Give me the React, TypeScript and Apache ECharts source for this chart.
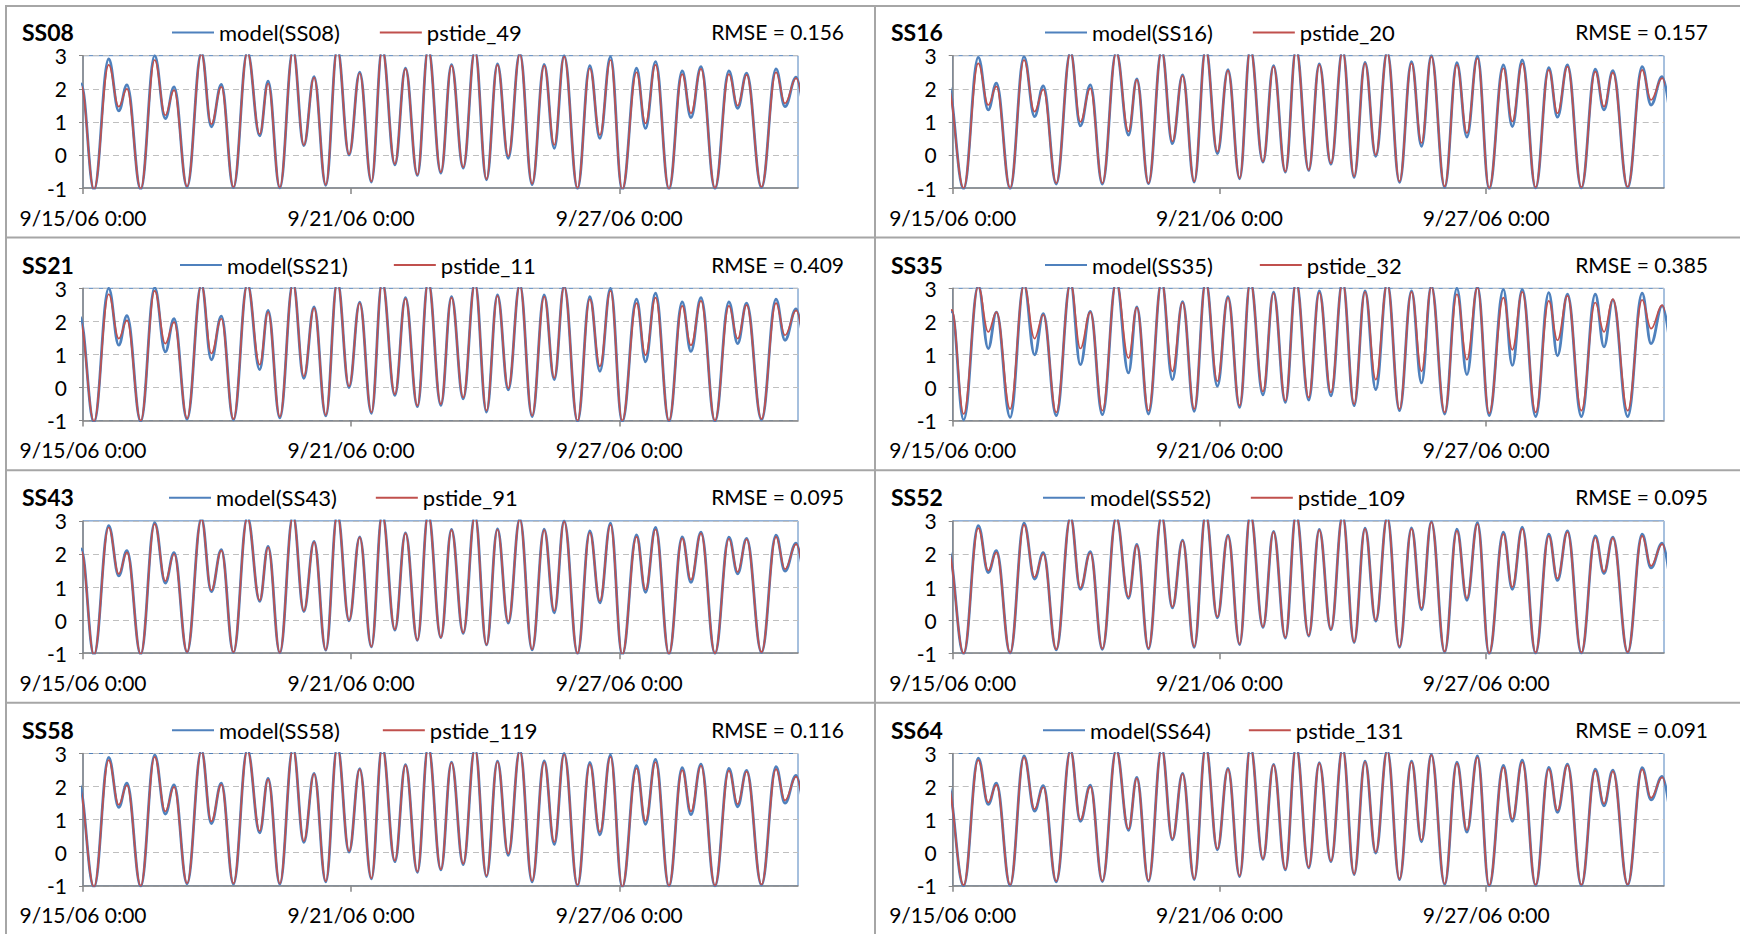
import { useEffect, useRef } from 'react';
import * as echarts from 'echarts';

// Times (hours after 9/15/06 0:00) of successive low / high waters shared by the stations
const TIDE_HOURS = [
  5.9, 13.8, 19.2, 23.6, 31.0, 38.5, 44.2, 48.9, 55.9, 63.6,
  68.9, 74.3, 80.8, 88.3, 94.9, 99.4, 105.7, 112.8, 118.6, 124.1,
  130.4, 136.6, 142.9, 148.6, 154.9, 160.7, 167.5, 173.2, 179.6, 185.4,
  192.2, 197.9, 204.2, 210.5, 216.7, 222.6, 228.4, 234.6, 241.2, 247.7,
  253.1, 258.4, 265.6, 272.2, 277.6, 283.3, 289.6, 297.3, 302.1, 307.5,
  314.7, 321.8, 326.5, 331.9, 339.4, 346.9, 351.6, 356.4, 364.4, 372.2,
  377.0, 383.0, 391.0,
];

const X_TICK_HOURS = [0, 144, 288];
const X_TICK_LABELS = ['9/15/06 0:00', '9/21/06 0:00', '9/27/06 0:00'];
const X_MAX_HOURS = 384;
const Y_MIN = -1;
const Y_MAX = 3;

const STATIONS = ['SS08', 'SS16', 'SS21', 'SS35', 'SS43', 'SS52', 'SS58', 'SS64'];
const GAUGES = ['pstide_49', 'pstide_20', 'pstide_11', 'pstide_32', 'pstide_91', 'pstide_109', 'pstide_119', 'pstide_131'];
const RMSE = [0.156, 0.157, 0.409, 0.385, 0.095, 0.095, 0.116, 0.091];

// Extremes just before the window: [hour, observed, model]
const ss08Lead = [[-5.7, 1.55, 1.45], [-1.0, 2.1, 2.15]];
const ss16Lead = [[-7.5, 1.55, 1.45], [-2.8, 2.1, 2.2]];
const ss21Lead = [[-6.4, 1.55, 1.45], [-1.7, 2.05, 2.15]];
const ss35Lead = [[-5.2, 1.7, 1.3], [-0.5, 2.35, 2.3]];
const ss43Lead = [[-5.7, 1.55, 1.5], [-1.0, 2.1, 2.15]];
const ss52Lead = [[-7.2, 1.55, 1.5], [-2.5, 2.1, 2.15]];
const ss58Lead = [[-7.0, 1.55, 1.5], [-2.3, 2.05, 2.1]];
const ss64Lead = [[-7.7, 1.55, 1.5], [-3.0, 2.1, 2.15]];

const ss08Obs = [
  -1.05, 2.72, 1.46, 2.0, -1.02, 2.87, 1.2, 1.96, -0.95, 3.05,
  0.93, 2.06, -0.97, 3.1, 0.63, 2.16, -0.98, 3.15, 0.30, 2.34,
  -0.9, 3.2, 0.02, 2.47, -0.8, 3.2, -0.27, 2.6, -0.6, 3.2,
  -0.52, 2.7, -0.37, 3.15, -0.73, 2.72, -0.04, 3.05, -0.87, 2.7,
  0.3, 2.97, -1.0, 2.62, 0.6, 2.87, -1.05, 2.5, 0.95, 2.72,
  -1.02, 2.44, 1.26, 2.6, -1.0, 2.44, 1.49, 2.42, -0.97, 2.5,
  1.56, 2.32, -0.95,
];
const ss08Model = [
  -1.06, 2.9, 1.33, 2.12, -1.05, 3.0, 1.1, 2.06, -0.97, 3.1,
  0.85, 2.13, -0.99, 3.12, 0.58, 2.23, -1.0, 3.17, 0.28, 2.37,
  -0.92, 3.22, 0.0, 2.5, -0.82, 3.22, -0.3, 2.62, -0.62, 3.22,
  -0.55, 2.73, -0.4, 3.17, -0.75, 2.75, -0.1, 3.08, -0.9, 2.74,
  0.2, 3.0, -1.02, 2.7, 0.5, 2.97, -1.07, 2.62, 0.8, 2.82,
  -1.04, 2.54, 1.13, 2.67, -1.02, 2.54, 1.41, 2.47, -0.99, 2.6,
  1.46, 2.35, -0.97,
];

const ss16Obs = [
  -1.0, 2.77, 1.51, 2.07, -1.0, 2.87, 1.31, 1.98, -0.85, 3.1,
  1.0, 2.01, -0.85, 3.1, 0.71, 2.27, -0.85, 3.15, 0.41, 2.39,
  -0.8, 3.2, 0.1, 2.55, -0.7, 3.2, -0.2, 2.67, -0.5, 3.2,
  -0.45, 2.72, -0.25, 3.15, -0.65, 2.77, 0.0, 3.1, -0.8, 2.77,
  0.36, 2.97, -0.95, 2.72, 0.66, 2.92, -1.0, 2.62, 1.01, 2.77,
  -0.98, 2.57, 1.26, 2.67, -0.98, 2.52, 1.46, 2.49, -0.97, 2.57,
  1.66, 2.32, -0.9,
];
const ss16Model = [
  -1.03, 2.95, 1.36, 2.17, -1.02, 2.97, 1.16, 2.09, -0.88, 3.12,
  0.88, 2.12, -0.88, 3.12, 0.6, 2.3, -0.87, 3.17, 0.34, 2.42,
  -0.82, 3.22, 0.04, 2.58, -0.72, 3.22, -0.22, 2.7, -0.52, 3.22,
  -0.47, 2.75, -0.28, 3.17, -0.68, 2.8, -0.04, 3.12, -0.83, 2.82,
  0.26, 3.0, -0.98, 2.79, 0.54, 2.99, -1.03, 2.72, 0.86, 2.87,
  -1.0, 2.64, 1.14, 2.72, -1.0, 2.59, 1.36, 2.55, -0.99, 2.67,
  1.51, 2.37, -0.92,
];

const ss21Obs = [
  -1.02, 2.82, 1.48, 2.03, -1.0, 2.92, 1.33, 1.98, -0.93, 3.1,
  1.03, 2.08, -0.95, 3.12, 0.69, 2.28, -0.88, 3.15, 0.34, 2.4,
  -0.83, 3.2, 0.04, 2.55, -0.75, 3.2, -0.2, 2.69, -0.55, 3.2,
  -0.5, 2.72, -0.3, 3.15, -0.7, 2.77, -0.02, 3.1, -0.85, 2.75,
  0.29, 3.05, -1.0, 2.67, 0.64, 2.92, -1.0, 2.55, 0.98, 2.72,
  -1.0, 2.47, 1.28, 2.62, -1.0, 2.47, 1.48, 2.49, -0.95, 2.55,
  1.58, 2.33, -0.9,
];
const ss21Model = [
  -1.05, 3.0, 1.28, 2.17, -1.03, 3.02, 1.08, 2.08, -0.96, 3.12,
  0.84, 2.16, -0.98, 3.14, 0.54, 2.33, -0.92, 3.17, 0.28, 2.44,
  -0.86, 3.22, 0.0, 2.58, -0.78, 3.22, -0.24, 2.72, -0.58, 3.22,
  -0.54, 2.75, -0.34, 3.17, -0.74, 2.8, -0.07, 3.12, -0.88, 2.8,
  0.24, 3.07, -1.03, 2.75, 0.49, 3.0, -1.04, 2.67, 0.78, 2.85,
  -1.03, 2.59, 1.09, 2.72, -1.03, 2.59, 1.33, 2.55, -0.98, 2.67,
  1.43, 2.38, -0.93,
];

const ss35Obs = [
  -0.8, 3.05, 1.68, 2.28, -0.65, 3.1, 1.48, 2.2, -0.75, 3.15,
  1.18, 2.28, -0.7, 3.2, 0.89, 2.42, -0.7, 3.2, 0.49, 2.57,
  -0.65, 3.2, 0.19, 2.72, -0.55, 3.2, -0.12, 2.85, -0.4, 3.2,
  -0.3, 2.87, -0.15, 3.2, -0.5, 2.89, 0.24, 3.15, -0.65, 2.89,
  0.49, 3.05, -0.75, 2.82, 0.84, 3.02, -0.78, 2.72, 1.14, 2.89,
  -0.75, 2.62, 1.43, 2.77, -0.7, 2.57, 1.68, 2.67, -0.7, 2.65,
  1.78, 2.49, -0.7,
];
const ss35Model = [
  -0.98, 3.08, 1.18, 2.28, -0.9, 3.12, 0.99, 2.23, -0.85, 3.17,
  0.69, 2.3, -0.82, 3.22, 0.44, 2.44, -0.8, 3.22, 0.24, 2.6,
  -0.72, 3.22, 0.04, 2.75, -0.6, 3.22, -0.22, 2.88, -0.45, 3.22,
  -0.38, 2.92, -0.25, 3.22, -0.55, 2.92, -0.06, 3.17, -0.7, 2.92,
  0.14, 3.08, -0.8, 3.0, 0.39, 3.05, -0.85, 2.97, 0.67, 2.97,
  -0.88, 2.87, 0.96, 2.82, -0.88, 2.82, 1.23, 2.65, -0.88, 2.85,
  1.33, 2.47, -0.88,
];

const ss43Obs = [
  -1.05, 2.8, 1.4, 2.05, -1.03, 2.9, 1.18, 2.0, -0.96, 3.05,
  0.9, 2.1, -0.97, 3.1, 0.6, 2.2, -0.98, 3.15, 0.28, 2.36,
  -0.9, 3.2, 0.0, 2.5, -0.8, 3.2, -0.28, 2.62, -0.6, 3.2,
  -0.52, 2.72, -0.38, 3.15, -0.74, 2.74, -0.05, 3.05, -0.88, 2.72,
  0.28, 2.98, -1.0, 2.65, 0.58, 2.88, -1.05, 2.52, 0.92, 2.74,
  -1.02, 2.47, 1.22, 2.62, -1.0, 2.46, 1.46, 2.44, -0.97, 2.52,
  1.54, 2.3, -0.95,
];
const ss43Model = [
  -1.06, 2.86, 1.34, 2.1, -1.04, 2.95, 1.12, 2.04, -0.97, 3.08,
  0.86, 2.13, -0.98, 3.12, 0.57, 2.23, -0.99, 3.17, 0.26, 2.38,
  -0.91, 3.22, -0.02, 2.52, -0.81, 3.22, -0.3, 2.64, -0.61, 3.22,
  -0.53, 2.74, -0.4, 3.17, -0.75, 2.76, -0.09, 3.07, -0.9, 2.75,
  0.22, 3.0, -1.01, 2.7, 0.52, 2.93, -1.06, 2.58, 0.84, 2.8,
  -1.03, 2.52, 1.14, 2.66, -1.01, 2.51, 1.4, 2.47, -0.98, 2.57,
  1.48, 2.33, -0.96,
];

const ss52Obs = [
  -1.0, 2.78, 1.5, 2.05, -0.98, 2.88, 1.3, 2.0, -0.88, 3.1,
  0.98, 2.03, -0.86, 3.1, 0.7, 2.26, -0.85, 3.15, 0.4, 2.4,
  -0.8, 3.2, 0.1, 2.55, -0.72, 3.2, -0.2, 2.66, -0.52, 3.2,
  -0.46, 2.72, -0.27, 3.15, -0.66, 2.76, 0.0, 3.1, -0.8, 2.76,
  0.36, 2.96, -0.95, 2.7, 0.66, 2.9, -1.0, 2.6, 1.0, 2.76,
  -0.98, 2.55, 1.26, 2.66, -0.98, 2.5, 1.46, 2.48, -0.97, 2.55,
  1.64, 2.3, -0.9,
];
const ss52Model = [
  -1.02, 2.86, 1.44, 2.1, -1.0, 2.93, 1.24, 2.04, -0.9, 3.12,
  0.93, 2.07, -0.88, 3.12, 0.66, 2.29, -0.87, 3.17, 0.37, 2.42,
  -0.82, 3.22, 0.07, 2.57, -0.74, 3.22, -0.22, 2.68, -0.54, 3.22,
  -0.48, 2.74, -0.29, 3.17, -0.68, 2.78, -0.03, 3.12, -0.82, 2.79,
  0.31, 2.98, -0.97, 2.75, 0.6, 2.95, -1.02, 2.66, 0.93, 2.81,
  -1.0, 2.6, 1.2, 2.7, -1.0, 2.55, 1.41, 2.51, -0.98, 2.6,
  1.58, 2.33, -0.92,
];

const ss58Obs = [
  -1.03, 2.8, 1.45, 2.04, -1.0, 2.9, 1.25, 1.99, -0.92, 3.08,
  0.95, 2.06, -0.93, 3.1, 0.66, 2.22, -0.93, 3.15, 0.35, 2.38,
  -0.86, 3.2, 0.05, 2.52, -0.77, 3.2, -0.24, 2.64, -0.57, 3.2,
  -0.5, 2.72, -0.33, 3.15, -0.7, 2.75, -0.03, 3.08, -0.85, 2.74,
  0.32, 2.97, -0.98, 2.67, 0.62, 2.9, -1.03, 2.55, 0.96, 2.74,
  -1.0, 2.5, 1.25, 2.63, -0.99, 2.48, 1.47, 2.45, -0.96, 2.53,
  1.58, 2.3, -0.93,
];
const ss58Model = [
  -1.05, 2.88, 1.37, 2.1, -1.02, 2.96, 1.17, 2.05, -0.94, 3.1,
  0.88, 2.1, -0.95, 3.12, 0.6, 2.25, -0.95, 3.17, 0.31, 2.4,
  -0.88, 3.22, 0.02, 2.54, -0.79, 3.22, -0.27, 2.66, -0.59, 3.22,
  -0.52, 2.74, -0.36, 3.17, -0.72, 2.77, -0.08, 3.1, -0.88, 2.78,
  0.25, 3.0, -1.0, 2.73, 0.54, 2.96, -1.05, 2.63, 0.86, 2.82,
  -1.02, 2.57, 1.15, 2.68, -1.01, 2.55, 1.39, 2.49, -0.98, 2.6,
  1.5, 2.34, -0.95,
];

const ss64Obs = [
  -0.98, 2.8, 1.52, 2.05, -0.97, 2.88, 1.32, 1.98, -0.86, 3.08,
  1.0, 2.0, -0.85, 3.1, 0.72, 2.25, -0.84, 3.15, 0.42, 2.38,
  -0.79, 3.2, 0.12, 2.53, -0.7, 3.2, -0.18, 2.65, -0.5, 3.2,
  -0.44, 2.7, -0.25, 3.15, -0.64, 2.75, 0.02, 3.08, -0.79, 2.74,
  0.38, 2.95, -0.94, 2.7, 0.68, 2.88, -0.99, 2.58, 1.02, 2.74,
  -0.97, 2.53, 1.28, 2.64, -0.97, 2.48, 1.48, 2.46, -0.96, 2.52,
  1.66, 2.28, -0.9,
];
const ss64Model = [
  -1.0, 2.86, 1.46, 2.1, -0.99, 2.93, 1.26, 2.03, -0.88, 3.1,
  0.95, 2.04, -0.87, 3.12, 0.68, 2.28, -0.86, 3.17, 0.39, 2.4,
  -0.81, 3.22, 0.09, 2.55, -0.72, 3.22, -0.2, 2.67, -0.52, 3.22,
  -0.46, 2.72, -0.27, 3.17, -0.66, 2.77, -0.01, 3.1, -0.81, 2.77,
  0.33, 2.97, -0.96, 2.74, 0.62, 2.93, -1.01, 2.64, 0.95, 2.8,
  -0.99, 2.58, 1.22, 2.68, -0.99, 2.53, 1.42, 2.5, -0.97, 2.57,
  1.6, 2.31, -0.92,
];

const LEADS = [ss08Lead, ss16Lead, ss21Lead, ss35Lead, ss43Lead, ss52Lead, ss58Lead, ss64Lead];
const OBSERVED = [ss08Obs, ss16Obs, ss21Obs, ss35Obs, ss43Obs, ss52Obs, ss58Obs, ss64Obs];
const MODELLED = [ss08Model, ss16Model, ss21Model, ss35Model, ss43Model, ss52Model, ss58Model, ss64Model];

// ---- layout (pixels) ----
const WIDTH = 1740;
const HEIGHT = 934;
const BLUE = '#4F81BD';
const RED = '#C0504D';
const FRAME = '#A6A6A6';
const AXIS = '#868686';
const FONT = 'Lato, "Liberation Sans", sans-serif';
const ROW_STEP = 232.6;
const PANEL_TOP0 = 6;
const PLOT_OFFSET = 49.7;
const PLOT_HEIGHT = 132.3;
const COL_PLOT_LEFT = [83, 952.7];
const COL_PLOT_WIDTH = [715, 711.3];
const COL_TITLE_X = [22, 891];
const COL_RMSE_RIGHT = [844, 1708];
const LEGEND_LEFT = [172, 1045, 180, 1045, 169, 1043, 172, 1043];
const LEGEND_GAP = [40, 40, 46, 47, 39, 40, 43, 38];

function buildPoints(lead: number[][], values: number[], col: number) {
  const pts: number[][] = lead.map((l) => [l[0], l[col]]);
  TIDE_HOURS.forEach((h, i) => pts.push([h, values[i]]));
  return pts;
}

function buildOption() {
  const grid: any[] = [];
  const xAxis: any[] = [];
  const yAxis: any[] = [];
  const series: any[] = [];
  const legend: any[] = [];
  const graphic: any[] = [];

  // panel frames
  const frameLine = (x1: number, y1: number, x2: number, y2: number) => ({
    type: 'line',
    silent: true,
    shape: { x1, y1, x2, y2 },
    style: { stroke: FRAME, lineWidth: 2 },
  });
  graphic.push(frameLine(5, 6, WIDTH, 6));
  for (let r = 1; r < 4; r++) {
    const y = PANEL_TOP0 + r * ROW_STEP - 1;
    graphic.push(frameLine(5, y, WIDTH, y));
  }
  graphic.push(frameLine(6, 5, 6, HEIGHT));
  graphic.push(frameLine(875, 5, 875, HEIGHT));

  STATIONS.forEach((st, i) => {
    const row = Math.floor(i / 2);
    const col = i % 2;
    const panelTop = PANEL_TOP0 + row * ROW_STEP;
    const plotTop = panelTop + PLOT_OFFSET;
    const headY = panelTop + 26;
    const modelName = `model(${st})`;
    const obsName = GAUGES[i];

    grid.push({
      left: COL_PLOT_LEFT[col],
      top: plotTop,
      width: COL_PLOT_WIDTH[col],
      height: PLOT_HEIGHT,
      show: true,
      borderColor: BLUE,
      borderWidth: 1,
      backgroundColor: '#fff',
      containLabel: false,
    });

    xAxis.push({
      type: 'value',
      gridIndex: i,
      min: 0,
      max: X_MAX_HOURS,
      interval: 144,
      axisLine: { show: true, onZero: false, lineStyle: { color: AXIS, width: 1.5 } },
      axisTick: { show: true, length: 6, customValues: X_TICK_HOURS, lineStyle: { color: AXIS, width: 1.5 } },
      axisLabel: {
        customValues: X_TICK_HOURS,
        margin: 20,
        color: '#000',
        fontFamily: FONT,
        fontSize: 21,
        lineHeight: 18,
        formatter: (v: number) => {
          const k = X_TICK_HOURS.indexOf(v);
          return k >= 0 ? X_TICK_LABELS[k] : '';
        },
      },
      splitLine: { show: false },
    });

    yAxis.push({
      type: 'value',
      gridIndex: i,
      min: Y_MIN,
      max: Y_MAX,
      interval: 1,
      axisLine: { show: true, onZero: false, lineStyle: { color: AXIS, width: 1.5 } },
      axisTick: { show: true, length: 4, lineStyle: { color: AXIS } },
      axisLabel: { margin: 16, color: '#000', fontFamily: FONT, fontSize: 21, lineHeight: 16 },
      splitLine: { show: true, lineStyle: { color: '#BFBFBF', width: 1.2, type: [6, 4] } },
    });

    series.push({
      type: 'line',
      name: modelName,
      xAxisIndex: i,
      yAxisIndex: i,
      data: buildPoints(LEADS[i], MODELLED[i], 2),
      symbol: 'none',
      smooth: 0.4,
      smoothMonotone: 'x',
      clip: true,
      silent: true,
      z: 2,
      lineStyle: { color: BLUE, width: 2.8 },
      itemStyle: { color: BLUE },
    });
    series.push({
      type: 'line',
      name: obsName,
      xAxisIndex: i,
      yAxisIndex: i,
      data: buildPoints(LEADS[i], OBSERVED[i], 1),
      symbol: 'none',
      smooth: 0.4,
      smoothMonotone: 'x',
      clip: true,
      silent: true,
      z: 3,
      lineStyle: { color: RED, width: 1.7 },
      itemStyle: { color: RED },
    });

    legend.push({
      data: [
        { name: modelName, icon: 'rect' },
        { name: obsName, icon: 'rect' },
      ],
      left: LEGEND_LEFT[i],
      top: headY - 10.5,
      orient: 'horizontal',
      padding: 0,
      itemWidth: 42,
      itemHeight: 2,
      itemGap: LEGEND_GAP[i],
      selectedMode: false,
      textStyle: { color: '#000', fontFamily: FONT, fontSize: 22, lineHeight: 18 },
    });

    graphic.push({
      type: 'text',
      silent: true,
      x: COL_TITLE_X[col],
      y: headY,
      style: {
        text: st,
        fill: '#000',
        font: `bold 23px ${FONT}`,
        lineHeight: 18,
        align: 'left',
        verticalAlign: 'middle',
      },
    });
    graphic.push({
      type: 'text',
      silent: true,
      x: COL_RMSE_RIGHT[col],
      y: headY - 0.5,
      style: {
        text: `RMSE = ${RMSE[i].toFixed(3)}`,
        fill: '#000',
        font: `21px ${FONT}`,
        lineHeight: 18,
        align: 'right',
        verticalAlign: 'middle',
      },
    });
  });

  return {
    animation: false,
    backgroundColor: '#fff',
    grid,
    xAxis,
    yAxis,
    series,
    legend,
    graphic,
  };
}

export default function App() {
  const ref = useRef<HTMLDivElement>(null);
  useEffect(() => {
    if (!ref.current) return;
    const chart = echarts.init(ref.current, undefined, { renderer: 'svg' });
    chart.setOption(buildOption() as any);
    return () => chart.dispose();
  }, []);
  return (
    <div
      ref={ref}
      style={{ position: 'absolute', left: 0, top: 0, width: WIDTH, height: HEIGHT, background: '#fff' }}
    />
  );
}
